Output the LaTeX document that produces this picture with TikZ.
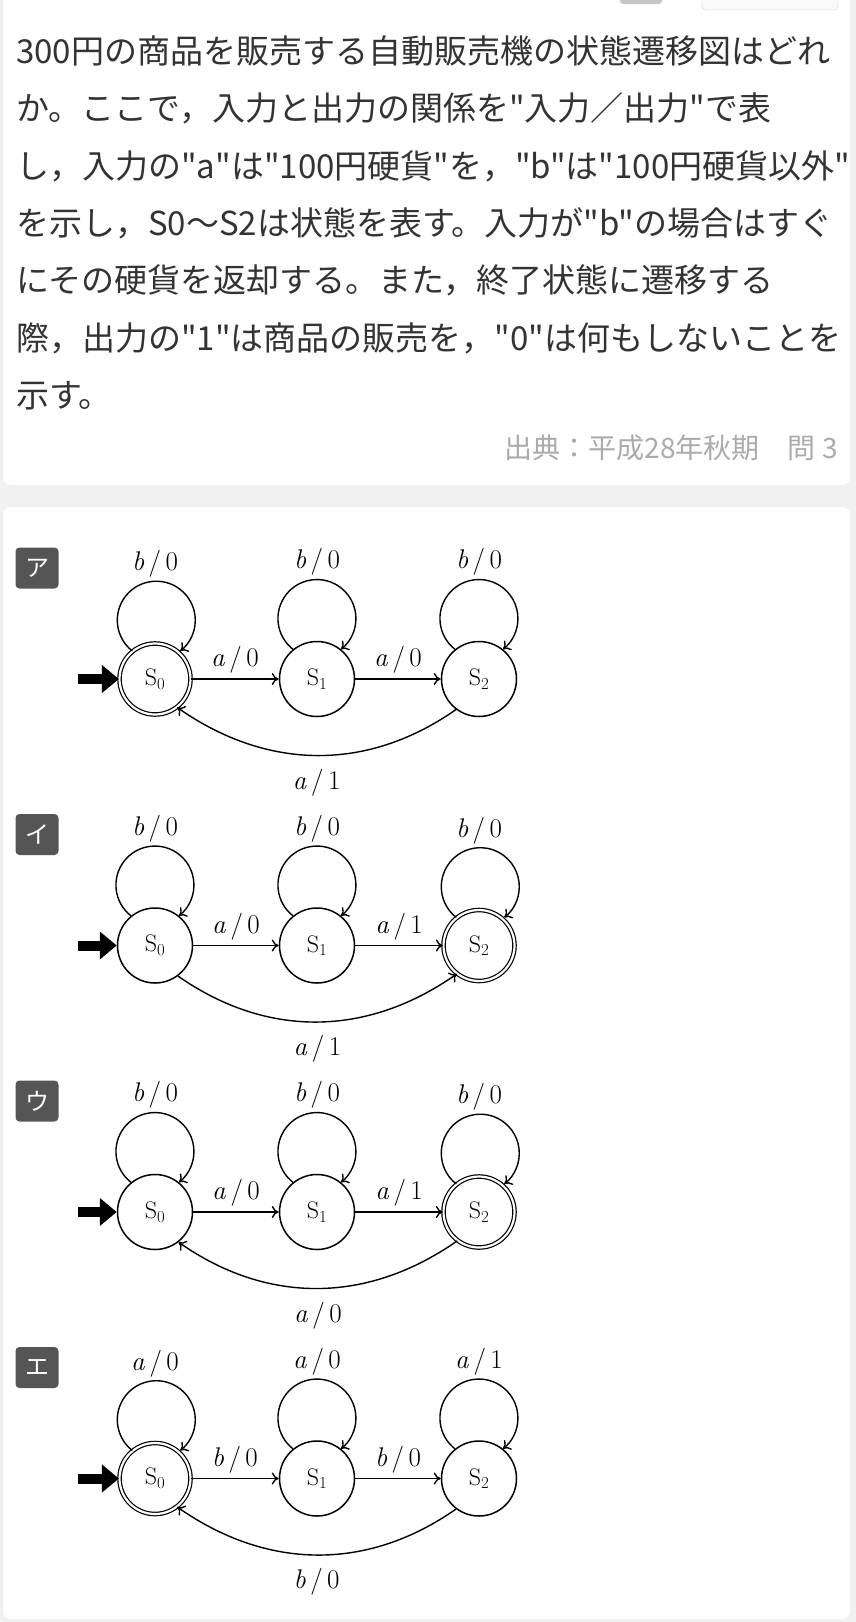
\documentclass[tikz,border=0pt]{standalone}
\usepackage{fontspec}
\usetikzlibrary{arrows.meta, positioning}
\newfontfamily\jp{Noto Sans CJK JP}
\definecolor{pagebg}{HTML}{F1F1F1}
\definecolor{ink}{HTML}{333333}
\definecolor{srcgray}{HTML}{ABABAB}
\definecolor{badgegray}{HTML}{555555}

\begin{document}
\begin{tikzpicture}[
    x=1pt, y=1pt,
    qtext/.style={anchor=west, inner sep=0pt, text height=29pt, text depth=4pt, text=ink, font=\jp\fontsize{33}{40}\selectfont},
    src/.style={anchor=east, inner sep=0pt, text height=24.6pt, text depth=3.4pt, text=srcgray, font=\jp\fontsize{28}{30}\selectfont},
    badge/.style={fill=badgegray, text=white, rounded corners=4pt, minimum width=43pt, minimum height=41pt, inner sep=0pt, font=\jp\fontsize{24}{24}\selectfont},
    state/.style={circle, draw=black, line width=1.5pt, minimum size=75pt, inner sep=0pt, font=\fontsize{24}{24}\selectfont},
    accept/.style={state, double, double distance=2.2pt, line width=1.2pt, minimum size=71pt},
    edge/.style={line width=1.4pt, -{To[length=7pt,width=12pt]}},
    initarrow/.style={line width=10pt, -{Triangle[length=17pt,width=27pt]}},
    lbl/.style={font=\fontsize{27}{27}\selectfont, inner sep=1pt},
    label distance=64pt
]
\useasboundingbox (0,0) rectangle (856,-1622);
\clip (0,0) rectangle (856,-1622);

% page and cards
\fill[pagebg] (0,0) rectangle (856,-1622);
\fill[white, rounded corners=8pt] (3,20) rectangle (850,-485);
\fill[white, rounded corners=8pt] (3,-507) rectangle (850,-1619);
\fill[gray!45, rounded corners=3pt] (620,8) rectangle (662,-4);
\draw[gray!35, fill=gray!4, rounded corners=4pt] (702,8) rectangle (838,-10);

% question
\node[qtext] (q1) at (16,-50.5) {300円の商品を販売する自動販売機の状態遷移図はどれ};
\node[qtext] (q2) at (16,-108) {か。ここで，入力と出力の関係を"入力／出力"で表};
\node[qtext] (q3) at (16,-165.5) {し，入力の"a"は"100円硬貨"を，"b"は"100円硬貨以外"};
\node[qtext] (q4) at (16,-223) {を示し，S0〜S2は状態を表す。入力が"b"の場合はすぐ};
\node[qtext] (q5) at (16,-280) {にその硬貨を返却する。また，終了状態に遷移する};
\node[qtext] (q6) at (16,-337.5) {際，出力の"1"は商品の販売を，"0"は何もしないことを};
\node[qtext] (q7) at (16,-395) {示す。};
\node[src] (source) at (838,-448) {出典：平成28年秋期　問 3};

% ア
\node[badge] (tagA) at (37,-568) {ア};
\node[accept, label={[lbl,name=lA0]above:\textit{b}\,/\,0}] (A0) at (155,-679) {S\textsubscript{0}};
\node[state, label={[lbl,name=lA1]above:\textit{b}\,/\,0}] (A1) at (317,-679) {S\textsubscript{1}};
\node[state, label={[lbl,name=lA2]above:\textit{b}\,/\,0}] (A2) at (479,-679) {S\textsubscript{2}};
\coordinate (inA) at (78,-679);
\draw[initarrow] (inA) -- (A0);
\draw[edge] (A0.129) arc[start angle=232, end angle=-52, radius=39];
\draw[edge] (A1.129) arc[start angle=232, end angle=-52, radius=39];
\draw[edge] (A2.129) arc[start angle=232, end angle=-52, radius=39];
\draw[edge] (A0) -- node[lbl, above=4pt] (eA01) {\textit{a}\,/\,0} (A1);
\draw[edge] (A1) -- node[lbl, above=4pt] (eA12) {\textit{a}\,/\,0} (A2);
\draw[edge] (A2.-127) to[out=215, in=-35, looseness=1] node[lbl, below=12pt] (eA20) {\textit{a}\,/\,1} (A0.-52);

% イ
\node[badge] (tagB) at (37,-834.5) {イ};
\node[state, label={[lbl,name=lB0]above:\textit{b}\,/\,0}] (B0) at (155,-945.5) {S\textsubscript{0}};
\node[state, label={[lbl,name=lB1]above:\textit{b}\,/\,0}] (B1) at (317,-945.5) {S\textsubscript{1}};
\node[accept, label={[lbl,name=lB2]above:\textit{b}\,/\,0}] (B2) at (479,-945.5) {S\textsubscript{2}};
\coordinate (inB) at (78,-945.5);
\draw[initarrow] (inB) -- (B0);
\draw[edge] (B0.129) arc[start angle=232, end angle=-52, radius=39];
\draw[edge] (B1.129) arc[start angle=232, end angle=-52, radius=39];
\draw[edge] (B2.129) arc[start angle=232, end angle=-52, radius=39];
\draw[edge] (B0) -- node[lbl, above=4pt] (eB01) {\textit{a}\,/\,0} (B1);
\draw[edge] (B1) -- node[lbl, above=4pt] (eB12) {\textit{a}\,/\,1} (B2);
\draw[edge] (B0.-53) to[out=-35, in=215, looseness=1] node[lbl, below=12pt] (eB02) {\textit{a}\,/\,1} (B2.-128);

% ウ
\node[badge] (tagC) at (37,-1101) {ウ};
\node[state, label={[lbl,name=lC0]above:\textit{b}\,/\,0}] (C0) at (155,-1212) {S\textsubscript{0}};
\node[state, label={[lbl,name=lC1]above:\textit{b}\,/\,0}] (C1) at (317,-1212) {S\textsubscript{1}};
\node[accept, label={[lbl,name=lC2]above:\textit{b}\,/\,0}] (C2) at (479,-1212) {S\textsubscript{2}};
\coordinate (inC) at (78,-1212);
\draw[initarrow] (inC) -- (C0);
\draw[edge] (C0.129) arc[start angle=232, end angle=-52, radius=39];
\draw[edge] (C1.129) arc[start angle=232, end angle=-52, radius=39];
\draw[edge] (C2.129) arc[start angle=232, end angle=-52, radius=39];
\draw[edge] (C0) -- node[lbl, above=4pt] (eC01) {\textit{a}\,/\,0} (C1);
\draw[edge] (C1) -- node[lbl, above=4pt] (eC12) {\textit{a}\,/\,1} (C2);
\draw[edge] (C2.-127) to[out=215, in=-35, looseness=1] node[lbl, below=12pt] (eC20) {\textit{a}\,/\,0} (C0.-52);

% エ
\node[badge] (tagD) at (37,-1367.5) {エ};
\node[accept, label={[lbl,name=lD0]above:\textit{a}\,/\,0}] (D0) at (155,-1478.5) {S\textsubscript{0}};
\node[state, label={[lbl,name=lD1]above:\textit{a}\,/\,0}] (D1) at (317,-1478.5) {S\textsubscript{1}};
\node[state, label={[lbl,name=lD2]above:\textit{a}\,/\,1}] (D2) at (479,-1478.5) {S\textsubscript{2}};
\coordinate (inD) at (78,-1478.5);
\draw[initarrow] (inD) -- (D0);
\draw[edge] (D0.129) arc[start angle=232, end angle=-52, radius=39];
\draw[edge] (D1.129) arc[start angle=232, end angle=-52, radius=39];
\draw[edge] (D2.129) arc[start angle=232, end angle=-52, radius=39];
\draw[edge] (D0) -- node[lbl, above=4pt] (eD01) {\textit{b}\,/\,0} (D1);
\draw[edge] (D1) -- node[lbl, above=4pt] (eD12) {\textit{b}\,/\,0} (D2);
\draw[edge] (D2.-127) to[out=215, in=-35, looseness=1] node[lbl, below=12pt] (eD20) {\textit{b}\,/\,0} (D0.-52);

\end{tikzpicture}
\end{document}
